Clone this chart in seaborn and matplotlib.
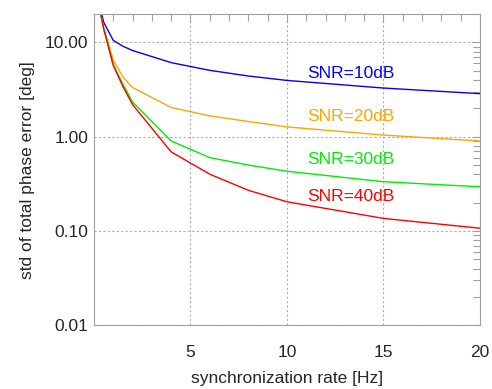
import numpy as np
import pandas as pd
import matplotlib
matplotlib.use("Agg")
import matplotlib.pyplot as plt
import matplotlib.ticker as mticker
import seaborn as sns

# values
rate = [0.25, 0.5, 1, 1.5, 2, 4, 6, 8, 10, 15, 20]
snr10 = [27, 16.4, 10.5, 9.1, 8.2, 6.1, 5.05, 4.4, 3.95, 3.28, 2.86]
snr20 = [25, 14.5, 6.5, 4.3, 3.32, 2.04, 1.66, 1.45, 1.27, 1.04, 0.90]
snr30 = [25, 14.2, 5.8, 3.6, 2.33, 0.90, 0.60, 0.50, 0.43, 0.333, 0.294]
snr40 = [25, 14.0, 5.7, 3.4, 2.19, 0.69, 0.40, 0.27, 0.204, 0.136, 0.107]
labels = ["SNR=10dB", "SNR=20dB", "SNR=30dB", "SNR=40dB"]
colors = ["#0000ff", "#ffa500", "#00ee00", "#ff0000"]
label_y = [4.67, 1.62, 0.574, 0.231]
ytick_vals = [0.01, 0.1, 1, 10]
ytick_text = ["0.01", "0.10", "1.00", "10.00"]
xtick_vals = [5, 10, 15, 20]

frames = []
for lab, vals in zip(labels, [snr10, snr20, snr30, snr40]):
    frames.append(pd.DataFrame({"rate": rate, "std": vals, "snr": lab}))
df = pd.concat(frames, ignore_index=True)

sns.set_style("white")
plt.rcParams["font.family"] = ["Liberation Sans", "DejaVu Sans"]

fig = plt.figure(figsize=(4.92, 3.89), dpi=100)
ax = fig.add_axes([0.191, 0.1638, 0.7846, 0.8002])

sns.lineplot(data=df, x="rate", y="std", hue="snr", palette=colors,
             linewidth=1.0, legend=False, ax=ax, estimator=None)

ax.set_yscale("log")
ax.set_xlim(0, 20)
ax.set_ylim(0.01, 20)

ax.set_yticks(ytick_vals)
ax.set_yticklabels(ytick_text)
ax.yaxis.set_minor_locator(mticker.LogLocator(base=10, subs=np.arange(2, 10)))
ax.yaxis.set_minor_formatter(mticker.NullFormatter())
ax.set_xticks(xtick_vals)
ax.xaxis.set_minor_locator(mticker.MultipleLocator(1))

ax.grid(True, which="major", color="#b0b0b0", linestyle=(0, (2, 2)), linewidth=0.8)
ax.tick_params(which="both", direction="in", top=True, right=True,
               color="#a0a0a0", labelsize=12.5)
ax.tick_params(which="major", length=6, width=0.8)
ax.tick_params(which="minor", length=5, width=0.8)
ax.tick_params(axis="x", pad=14)
ax.tick_params(axis="y", pad=4)
for sp in ax.spines.values():
    sp.set_color("#a0a0a0")
    sp.set_linewidth(0.8)

for lab, col, yy in zip(labels, colors, label_y):
    ax.text(11.03, yy, lab, color=col, fontsize=12.5, va="center", ha="left")

ax.set_xlabel("synchronization rate [Hz]", fontsize=12.5, labelpad=8)
ax.set_ylabel("std of total phase error [deg]", fontsize=12.5, labelpad=7)

fig.savefig("out.png", dpi=100)
